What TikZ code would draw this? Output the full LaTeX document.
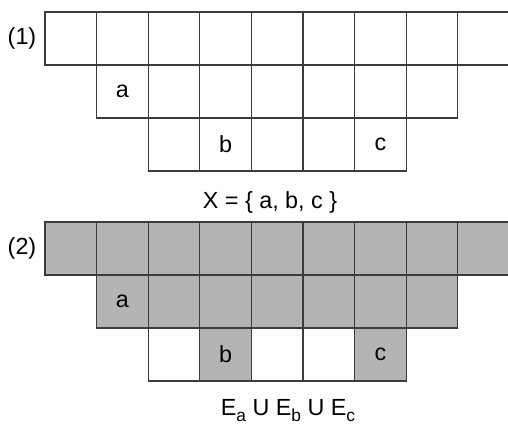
\documentclass[tikz,border=0pt]{standalone}
\usepackage{fontspec}
\setmainfont{Liberation Sans}
\usetikzlibrary{positioning}
\definecolor{cellgrey}{RGB}{180,180,180}
\definecolor{cellline}{RGB}{60,60,60}
\newcommand{\lowsub}[1]{\raisebox{-0.55ex}{\fontsize{13}{15}\selectfont #1}}

\begin{document}
\begin{tikzpicture}[
x=0.75pt,y=-0.75pt,
every node/.style={font=\fontsize{17.5}{21}\selectfont},
cell/.style={draw=cellline,line width=0.8pt,inner sep=0pt,outer sep=0pt,
minimum width=38.7pt,minimum height=39.75pt},
blank/.style={cell,fill=white},
shade/.style={cell,fill=cellgrey},
caption/.style={inner sep=0pt,anchor=base}
]
\useasboundingbox (0,0) rectangle (508,425);
\clip (0,0) rectangle (508,425);

% (1) the set X
\node (lab1) at (22,38.5) {(1)};
\foreach \c in {1,...,9}
  \node[blank] (a1\c) at ({45+51.6*(\c-0.5)},38.5) {};
\foreach \c/\t in {2/a,3/,4/,5/,6/,7/,8/}
  \node[blank] (a2\c) at ({45+51.6*(\c-0.5)},91.5) {\t};
\foreach \c/\t in {3/,4/b,5/,6/,7/c}
  \node[blank] (a3\c) at ({45+51.6*(\c-0.5)},144.5) {\t};
\node[caption] (capX) at (270,208) {X = \{ a, b, c \}};

% (2) the union of the E sets
\node (lab2) at (22,248.5) {(2)};
\foreach \c in {1,...,9}
  \node[shade] (b1\c) at ({45+51.6*(\c-0.5)},248.5) {};
\foreach \c/\t in {2/a,3/,4/,5/,6/,7/,8/}
  \node[shade] (b2\c) at ({45+51.6*(\c-0.5)},301.5) {\t};
\foreach \c/\s/\t in {3/blank/,4/shade/b,5/blank/,6/blank/,7/shade/c}
  \node[\s] (b3\c) at ({45+51.6*(\c-0.5)},354.5) {\t};
\node[caption] (capE) at (288,415)
  {E\lowsub{a} U E\lowsub{b} U E\lowsub{c}};
\end{tikzpicture}
\end{document}
